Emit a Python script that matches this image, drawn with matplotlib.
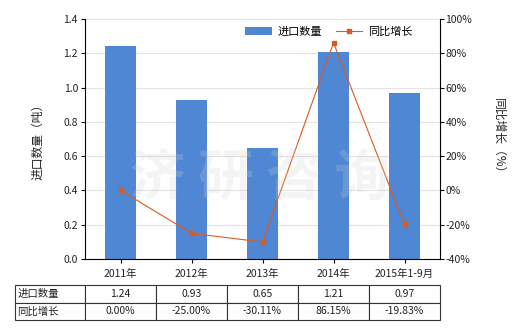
import numpy as np
import matplotlib
matplotlib.use("Agg")
import matplotlib.pyplot as plt

plt.rcParams["font.family"] = ["Noto Sans CJK SC", "DejaVu Sans"]
plt.rcParams["font.size"] = 7.5
plt.rcParams["axes.unicode_minus"] = False

years = ["2011年", "2012年", "2013年", "2014年", "2015年1-9月"]
qty = [1.24, 0.93, 0.65, 1.21, 0.97]
growth = [0.00, -25.00, -30.11, 86.15, -19.83]
qty_txt = ["1.24", "0.93", "0.65", "1.21", "0.97"]
growth_txt = ["0.00%", "-25.00%", "-30.11%", "86.15%", "-19.83%"]

bar_c = "#4F87D4"
line_c = "#DB5A1E"
txt_c = "#222222"

fig = plt.figure(figsize=(5.2, 3.3), dpi=100)
ax = fig.add_axes([85/520, 1-259/330, 355/520, 240/330])
x = np.arange(len(years))

ax.bar(x, qty, width=0.44, color=bar_c, label="进口数量", zorder=2)
ax.set_xlim(-0.5, len(years) - 0.5)
ax.set_ylim(0, 1.4)
ax.set_yticks(np.arange(0, 1.41, 0.2))
ax.set_yticklabels([f"{v:.1f}" for v in np.arange(0, 1.41, 0.2)])
ax.yaxis.grid(True, color="#E3E3E3", lw=0.8, zorder=0)
ax.set_axisbelow(True)
ax.set_xticks(x)
ax.set_xticklabels(years)
ax.tick_params(axis="both", length=3, width=0.8, colors="black", labelcolor=txt_c, pad=2)
ax.tick_params(axis="x", pad=4)
for s in ["top", "right"]:
    ax.spines[s].set_visible(False)
ax.set_ylabel("进口数量（吨）", labelpad=14, color=txt_c, fontsize=8.5)

ax2 = ax.twinx()
ax2.plot(x, growth, color=line_c, lw=0.8, marker="s", ms=3.5, label="同比增长", zorder=3)
ax2.set_ylim(-40, 100)
ax2.set_yticks(np.arange(-40, 101, 20))
ax2.set_yticklabels([f"{v}%" for v in range(-40, 101, 20)])
ax2.tick_params(axis="y", length=3, width=0.8, colors="black", labelcolor=txt_c, pad=1)
for s in ["top", "left", "bottom"]:
    ax2.spines[s].set_visible(False)
ax2.set_ylabel("同比增长（%）", rotation=-90, labelpad=24, color=txt_c, fontsize=8.5)

# watermark
fig.text(0.5, 0.46, "济 研 咨 询", fontsize=40, color="#D0D0D0", alpha=0.22,
         ha="center", va="center", fontweight="bold", zorder=10)

h1, l1 = ax.get_legend_handles_labels()
h2, l2 = ax2.get_legend_handles_labels()
ax2.legend(h1 + h2, l1 + l2, ncol=2, frameon=False, loc="upper right",
           bbox_to_anchor=(0.95, 1.01), fontsize=8, handlelength=2.4,
           columnspacing=1.2, handletextpad=0.5)

# data table
cells = [["进口数量"] + qty_txt, ["同比增长"] + growth_txt]
w0 = 70 / 355
tb = ax.table(cellText=cells, cellLoc="center",
              colWidths=[w0] + [1 / 5] * 5,
              bbox=[-w0, -61/240, 1 + w0, 35/240])
tb.auto_set_font_size(False)
tb.set_fontsize(7.5)
for (r, c), cell in tb.get_celld().items():
    cell.set_edgecolor("#333333")
    cell.set_linewidth(0.8)
    cell.get_text().set_color(txt_c)
    if c == 0:
        cell.get_text().set_ha("left")
        cell.PAD = 0.03

fig.savefig("out.png", dpi=100)
